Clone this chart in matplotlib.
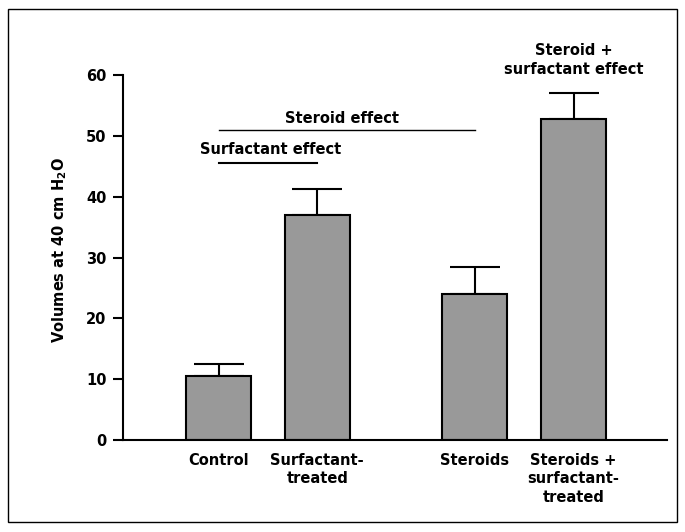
import matplotlib
matplotlib.use("Agg")
import matplotlib.pyplot as plt
from matplotlib.patches import Rectangle

groups = ["Control", "Surfactant-\ntreated", "Steroids", "Steroids +\nsurfactant-\ntreated"]
volumes = [10.5, 37.0, 24.0, 52.7]
errors = [2.0, 4.2, 4.4, 4.4]
positions = [0.0, 1.0, 2.6, 3.6]

plt.rcParams["font.family"] = ["DejaVu Sans"]
plt.rcParams["font.weight"] = "bold"
fs = 10.5

fig = plt.figure(figsize=(6.85, 5.32), dpi=100)
ax = fig.add_axes([0.1796, 0.1729, 0.7944, 0.6861])

ax.bar(positions, volumes, width=0.66, color="#999999", edgecolor="black", linewidth=1.5, zorder=2)
ax.errorbar(positions, volumes, yerr=[[0] * len(errors), errors], fmt="none",
            ecolor="black", elinewidth=1.5, capsize=18, capthick=1.5, zorder=1)

ax.set_xlim(-0.97, 4.55)
ax.set_ylim(0, 60)
ax.set_yticks(range(0, 61, 10))
ax.set_xticks(positions)
ax.set_xticklabels(groups, fontsize=fs, fontweight="bold", va="top", linespacing=1.3)
ax.tick_params(axis="x", length=0, pad=9)
ax.tick_params(axis="y", length=7, width=1.5, labelsize=fs, pad=5)
for s in ["top", "right"]:
    ax.spines[s].set_visible(False)
for s in ["left", "bottom"]:
    ax.spines[s].set_linewidth(1.5)
ax.set_ylabel("Volumes at 40 cm H$_\\mathregular{2}$O", fontsize=fs, fontweight="bold")
ax.yaxis.set_label_coords(-0.1, 0.52)

# effect annotations
ax.plot([positions[0], positions[2]], [51.0, 51.0], color="black", lw=1.0, clip_on=False)
ax.text((positions[0] + positions[2]) / 2 - 0.05, 51.7, "Steroid effect", ha="center", va="bottom",
        fontsize=fs, fontweight="bold")
ax.plot([positions[0], positions[1]], [45.6, 45.6], color="black", lw=1.5, clip_on=False)
ax.text(0.53, 46.5, "Surfactant effect", ha="center", va="bottom", fontsize=fs, fontweight="bold")
ax.text(positions[3], 59.6, "Steroid +\nsurfactant effect", ha="center", va="bottom",
        fontsize=fs, fontweight="bold", linespacing=1.35, clip_on=False)

fig.patches.append(Rectangle((8 / 685, 10 / 532), 669 / 685, 513 / 532, transform=fig.transFigure,
                             fill=False, edgecolor="black", linewidth=1.0))

fig.savefig("out.png", dpi=100)
